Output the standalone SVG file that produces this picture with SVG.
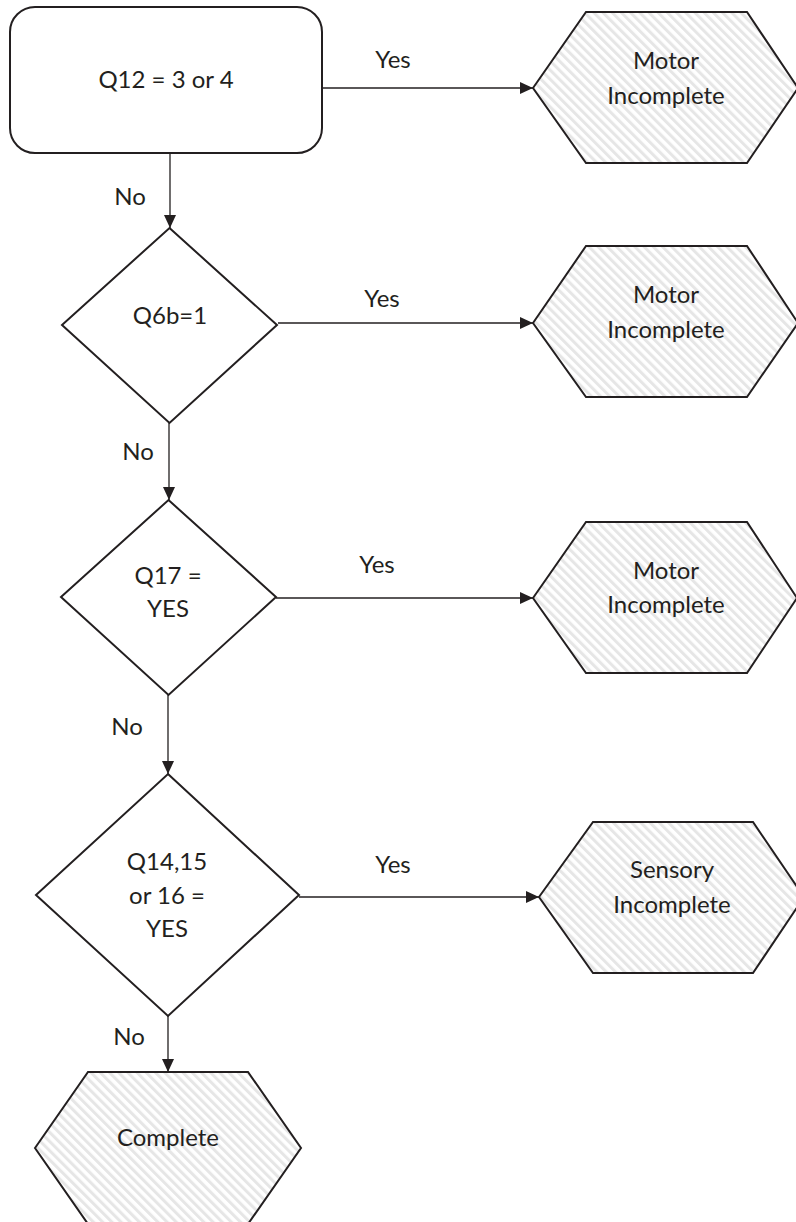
<svg xmlns="http://www.w3.org/2000/svg" width="796" height="1222" viewBox="0 0 796 1222">
<defs>
<pattern id="hatch" patternUnits="userSpaceOnUse" width="6.5" height="10" patternTransform="rotate(-45)">
<rect x="0" y="0" width="6.5" height="10" fill="#ffffff"/>
<rect x="0" y="0" width="3" height="10" fill="#e6e6e6"/>
</pattern>
<marker id="arr" markerUnits="userSpaceOnUse" markerWidth="14" markerHeight="12" refX="13" refY="6" orient="auto">
<path d="M0,0 L13,6 L0,12 Z" fill="#231f20"/>
</marker>
</defs>
<style>
.shape{fill:#ffffff;stroke:#231f20;stroke-width:2}
.term{fill:url(#hatch);stroke:#231f20;stroke-width:2}
.t{font-family:Lato,"Liberation Sans",sans-serif;font-size:24px;fill:#231f20;text-anchor:middle}
.c{fill:none;stroke:#231f20;stroke-width:1.3}
</style>
<rect width="796" height="1222" fill="#ffffff"/>

<g id="connectors">
<line class="c" x1="322" y1="88" x2="533" y2="88" marker-end="url(#arr)"/>
<line class="c" x1="170" y1="153" x2="170" y2="228" marker-end="url(#arr)"/>
<line class="c" x1="278" y1="323" x2="533" y2="323" marker-end="url(#arr)"/>
<line class="c" x1="169" y1="423" x2="169" y2="500" marker-end="url(#arr)"/>
<line class="c" x1="276" y1="598" x2="533" y2="598" marker-end="url(#arr)"/>
<line class="c" x1="168" y1="695" x2="168" y2="774" marker-end="url(#arr)"/>
<line class="c" x1="299" y1="897" x2="539" y2="897" marker-end="url(#arr)"/>
<line class="c" x1="168" y1="1016" x2="168" y2="1072" marker-end="url(#arr)"/>
<text class="t" x="393" y="68">Yes</text>
<text class="t" x="130" y="205">No</text>
<text class="t" x="382" y="307">Yes</text>
<text class="t" x="138" y="460">No</text>
<text class="t" x="377" y="573">Yes</text>
<text class="t" x="127" y="735">No</text>
<text class="t" x="393" y="873">Yes</text>
<text class="t" x="129" y="1045">No</text>
</g>

<g id="q12">
<rect class="shape" x="10" y="7" width="312" height="146" rx="25" ry="25"/>
<text class="t" x="166" y="88">Q12 = 3 or 4</text>
</g>

<g id="motor1">
<polygon class="term" points="533,88 586,12 747,12 798,88 747,163 586,163"/>
<text class="t" x="666" y="69">Motor</text>
<text class="t" x="666" y="104">Incomplete</text>
</g>

<g id="q6b">
<polygon class="shape" points="169.5,228 277,325 169.5,423 62,325"/>
<text class="t" x="170" y="324">Q6b=1</text>
</g>

<g id="motor2">
<polygon class="term" points="533,323 586,246 747,246 798,323 747,397 586,397"/>
<text class="t" x="666" y="303">Motor</text>
<text class="t" x="666" y="338">Incomplete</text>
</g>

<g id="q17">
<polygon class="shape" points="168.5,500 276,597 168.5,695 61,597"/>
<text class="t" x="168" y="584">Q17 =</text>
<text class="t" x="168" y="617">YES</text>
</g>

<g id="motor3">
<polygon class="term" points="533,598 586,522 747,522 797,598 747,673 586,673"/>
<text class="t" x="666" y="579">Motor</text>
<text class="t" x="666" y="613">Incomplete</text>
</g>

<g id="q14">
<polygon class="shape" points="168,774 299,895 168,1016 36,895"/>
<text class="t" x="167" y="870">Q14,15</text>
<text class="t" x="167" y="904">or 16 =</text>
<text class="t" x="167" y="937">YES</text>
</g>

<g id="sensory">
<polygon class="term" points="539,897 593,822 753,822 804,897 753,973 593,973"/>
<text class="t" x="672" y="878">Sensory</text>
<text class="t" x="672" y="913">Incomplete</text>
</g>

<g id="complete">
<polygon class="term" points="35,1148 88,1072 248,1072 301,1148 248,1224 88,1224"/>
<text class="t" x="168" y="1146">Complete</text>
</g>
</svg>
